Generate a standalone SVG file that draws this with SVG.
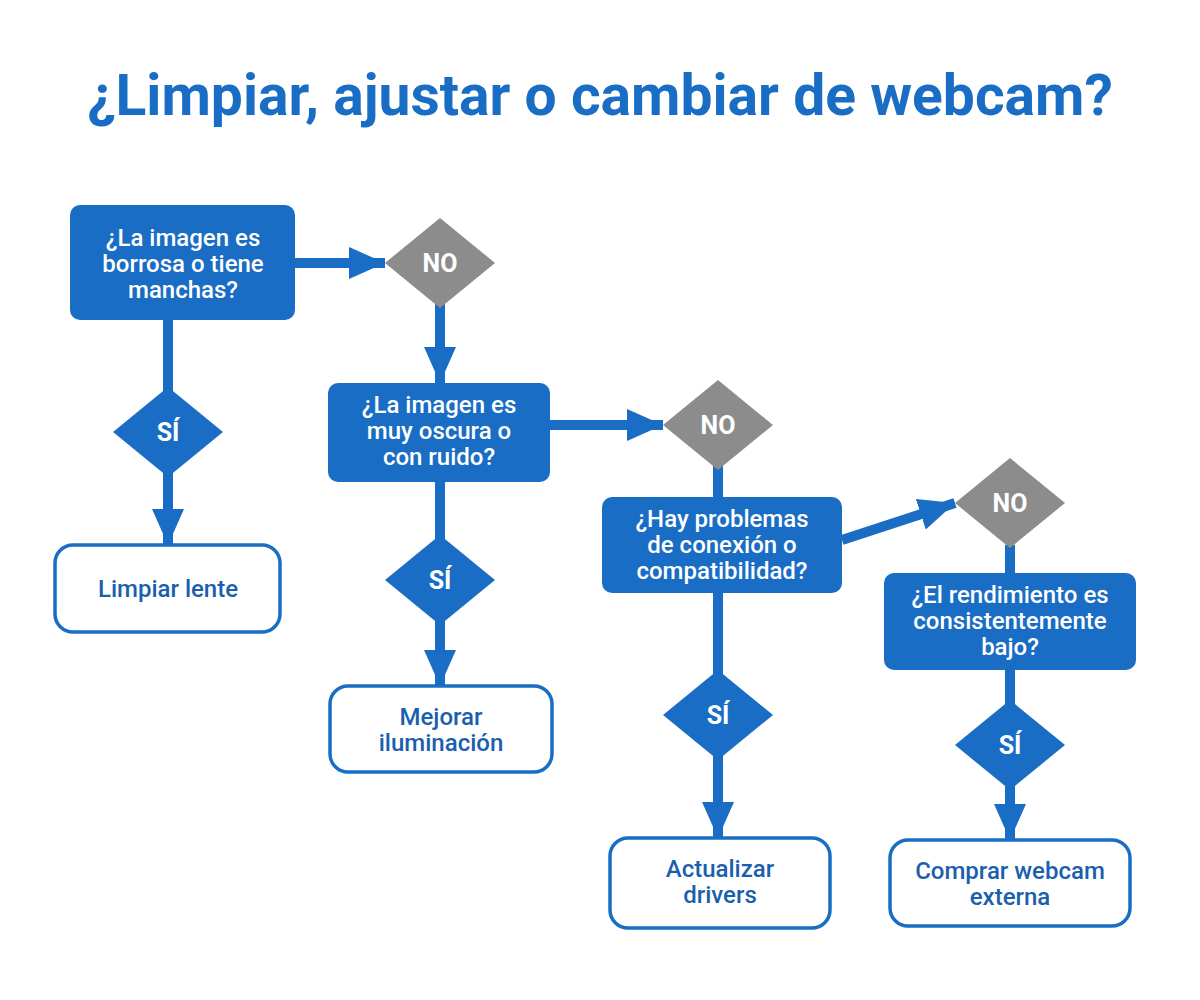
<svg xmlns="http://www.w3.org/2000/svg" width="1200" height="1000" viewBox="0 0 1200 1000">
<style>
.q{fill:#1a6dc4}
.r{fill:#fff;stroke:#1a6dc4;stroke-width:3.5}
.no{fill:#8c8c8c}
.si{fill:#1a6dc4}
text{font-family:Roboto,"Liberation Sans",sans-serif;font-weight:500;font-size:24px;text-anchor:middle}
.w{fill:#fff}
.b{fill:#1a5fae}
.d{font-weight:700;font-size:25px;fill:#fff}
.c{stroke:#1a6dc4;stroke-width:10;fill:none}
</style>
<defs>
<marker id="a" markerUnits="userSpaceOnUse" markerWidth="40" markerHeight="40" refX="36" refY="20" orient="auto">
<path d="M0,4 L36,20 L0,36 Z" fill="#1a6dc4"/>
</marker>
</defs>
<rect width="1200" height="1000" fill="#fff"/>
<text x="600" y="115" style="font-size:57px;font-weight:700;fill:#1a6dc4">¿Limpiar, ajustar o cambiar de webcam?</text>
<g id="connectors">
<line class="c" x1="295" y1="263" x2="385" y2="263" marker-end="url(#a)"/>
<line class="c" x1="440" y1="300" x2="440" y2="383" marker-end="url(#a)"/>
<line class="c" x1="168" y1="320" x2="168" y2="395"/>
<line class="c" x1="168" y1="470" x2="168" y2="545" marker-end="url(#a)"/>
<line class="c" x1="550" y1="425" x2="663" y2="425" marker-end="url(#a)"/>
<line class="c" x1="440" y1="482" x2="440" y2="540"/>
<line class="c" x1="440" y1="620" x2="440" y2="686" marker-end="url(#a)"/>
<line class="c" x1="718" y1="465" x2="718" y2="497"/>
<line class="c" x1="842" y1="540" x2="955" y2="503" marker-end="url(#a)"/>
<line class="c" x1="1010" y1="545" x2="1010" y2="573"/>
<line class="c" x1="718" y1="593" x2="718" y2="675"/>
<line class="c" x1="718" y1="755" x2="718" y2="838" marker-end="url(#a)"/>
<line class="c" x1="1010" y1="670" x2="1010" y2="705"/>
<line class="c" x1="1010" y1="785" x2="1010" y2="840" marker-end="url(#a)"/>
</g>
<g id="q1"><rect class="q" x="70" y="205" width="225" height="115" rx="10"/>
<text class="w" x="183" y="246">¿La imagen es</text><text class="w" x="183" y="272">borrosa o tiene</text><text class="w" x="183" y="298">manchas?</text></g>
<g id="no1"><polygon class="no" points="440,218 495,263 440,308 385,263"/><text class="d" x="440" y="272">NO</text></g>
<g id="si1"><polygon class="si" points="168,387 223,432 168,477 113,432"/><text class="d" x="168" y="441">SÍ</text></g>
<g id="limpiar"><rect class="r" x="55" y="545" width="225" height="87" rx="18"/><text class="b" x="168" y="597">Limpiar lente</text></g>
<g id="q2"><rect class="q" x="328" y="383" width="222" height="99" rx="10"/>
<text class="w" x="439" y="413">¿La imagen es</text><text class="w" x="439" y="439">muy oscura o</text><text class="w" x="439" y="465">con ruido?</text></g>
<g id="no2"><polygon class="no" points="718,380 773,425 718,470 663,425"/><text class="d" x="718" y="434">NO</text></g>
<g id="si2"><polygon class="si" points="440,535 495,580 440,625 385,580"/><text class="d" x="440" y="589">SÍ</text></g>
<g id="mejorar"><rect class="r" x="330" y="686" width="222" height="86" rx="18"/><text class="b" x="441" y="725">Mejorar</text><text class="b" x="441" y="751">iluminación</text></g>
<g id="q3"><rect class="q" x="602" y="497" width="240" height="96" rx="10"/>
<text class="w" x="722" y="527">¿Hay problemas</text><text class="w" x="722" y="553">de conexión o</text><text class="w" x="722" y="579">compatibilidad?</text></g>
<g id="no3"><polygon class="no" points="1010,458 1065,503 1010,548 955,503"/><text class="d" x="1010" y="512">NO</text></g>
<g id="si3"><polygon class="si" points="718,670 773,715 718,760 663,715"/><text class="d" x="718" y="724">SÍ</text></g>
<g id="actualizar"><rect class="r" x="610" y="838" width="220" height="90" rx="18"/><text class="b" x="720" y="877">Actualizar</text><text class="b" x="720" y="903">drivers</text></g>
<g id="q4"><rect class="q" x="884" y="573" width="252" height="97" rx="10"/>
<text class="w" x="1010" y="603">¿El rendimiento es</text><text class="w" x="1010" y="629">consistentemente</text><text class="w" x="1010" y="655">bajo?</text></g>
<g id="si4"><polygon class="si" points="1010,700 1065,745 1010,790 955,745"/><text class="d" x="1010" y="754">SÍ</text></g>
<g id="comprar"><rect class="r" x="890" y="840" width="240" height="86" rx="18"/><text class="b" x="1010" y="879">Comprar webcam</text><text class="b" x="1010" y="905">externa</text></g>
</svg>
